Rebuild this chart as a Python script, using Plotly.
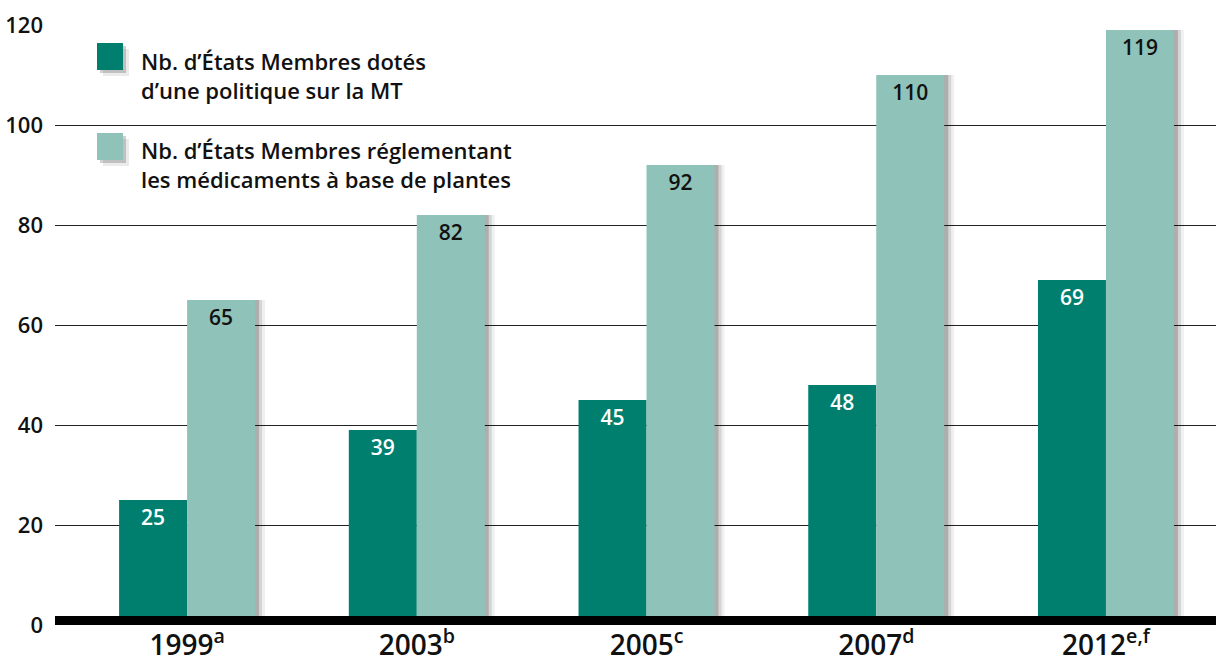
import plotly.graph_objects as go

years = ["1999", "2003", "2005", "2007", "2012"]
footnotes = ["a", "b", "c", "d", "e,f"]
policy_counts = [25, 39, 45, 48, 69]
herbal_counts = [65, 82, 92, 110, 119]
series_names = [
    "Nb. d\u2019\u00c9tats Membres dot\u00e9s<br>d\u2019une politique sur la MT",
    "Nb. d\u2019\u00c9tats Membres r\u00e9glementant<br>les m\u00e9dicaments \u00e0 base de plantes",
]
y_ticks = [0, 20, 40, 60, 80, 100, 120]

DARK = "#007f6f"
LIGHT = "#8fc2b9"
FONT = "Open Sans"
W, H = 1216, 663
ML, MR, MT, MB = 55, 0, 25, 38
BAR_W = 0.296
PX = 1 / 229.75  # one pixel in category units


def px_x(p):
    return (p - ML) / (W - ML - MR)


def px_y(p):
    return (H - MB - p) / (H - MT - MB)


fig = go.Figure()

# soft drop shadows behind the bars
for off, alpha in [(10, 0.06), (7, 0.11), (4, 0.18)]:
    fig.add_trace(go.Bar(
        x=years, y=herbal_counts, offset=off * PX, width=BAR_W,
        marker=dict(color=f"rgba(0,0,0,{alpha})", line_width=0),
        hoverinfo="skip", showlegend=False,
    ))

fig.add_trace(go.Bar(
    x=years, y=policy_counts, offset=-BAR_W, width=BAR_W,
    name=series_names[0],
    marker=dict(color=DARK, line_width=0),
    text=policy_counts, textposition="inside", insidetextanchor="end",
    textangle=0, constraintext="none",
    textfont=dict(family=FONT, size=21, color="white", weight=600),
    showlegend=False,
))
fig.add_trace(go.Bar(
    x=years, y=herbal_counts, offset=0, width=BAR_W,
    name=series_names[1],
    marker=dict(color=LIGHT, line_width=0),
    text=herbal_counts, textposition="inside", insidetextanchor="end",
    textangle=0, constraintext="none",
    textfont=dict(family=FONT, size=21, color="#111111", weight=600),
    showlegend=False,
))

shapes = []
# thick baseline with a soft shadow underneath
for dy, alpha in [(-6, 0.06), (-3, 0.12)]:
    shapes.append(dict(
        type="rect", xref="paper", x0=0, x1=1, yref="y", ysizemode="pixel",
        yanchor=0, y0=dy, y1=9 + dy, line_width=0,
        fillcolor=f"rgba(0,0,0,{alpha})", layer="below",
    ))
shapes.append(dict(
    type="rect", xref="paper", x0=0, x1=1, yref="y", ysizemode="pixel",
    yanchor=0, y0=0, y1=9, line_width=0, fillcolor="black", layer="above",
))

# hand-made legend: squares with a small shadow, two-line labels
annotations = []
for color, top, text_y, name in [(DARK, 43, 76, series_names[0]),
                                 (LIGHT, 133, 165, series_names[1])]:
    for d, alpha in [(6, 0.08), (3, 0.18)]:
        shapes.append(dict(
            type="rect", xref="paper", yref="paper",
            x0=px_x(97 + d), x1=px_x(123 + d),
            y0=px_y(top + 27 + d), y1=px_y(top + d),
            line_width=0, fillcolor=f"rgba(0,0,0,{alpha})", layer="above",
        ))
    shapes.append(dict(
        type="rect", xref="paper", yref="paper",
        x0=px_x(97), x1=px_x(123), y0=px_y(top + 27), y1=px_y(top),
        line_width=0, fillcolor=color, layer="above",
    ))
    annotations.append(dict(
        xref="paper", yref="paper", x=px_x(139), y=px_y(text_y),
        xanchor="left", yanchor="middle", align="left", showarrow=False,
        text=name,
        font=dict(family=FONT, size=22, color="#111111", weight=600),
    ))

fig.update_layout(
    width=W, height=H,
    margin=dict(l=ML, r=MR, t=MT, b=MB),
    barmode="overlay",
    plot_bgcolor="white", paper_bgcolor="white",
    font=dict(family=FONT, color="#111111"),
    shapes=shapes, annotations=annotations,
    showlegend=False,
    xaxis=dict(
        type="category", range=[-0.575, 4.479],
        tickvals=years,
        ticktext=[f"{y}<sup>{f}</sup>" for y, f in zip(years, footnotes)],
        tickfont=dict(family=FONT, size=28, color="#111111", weight=600),
        showgrid=False, zeroline=False, showline=False, ticks="",
        ticklabelstandoff=1, automargin=False,
    ),
    yaxis=dict(
        range=[0, 120], tickvals=y_ticks,
        tickfont=dict(family=FONT, size=22, color="#111111", weight=600),
        showgrid=True, gridcolor="#222222", gridwidth=1,
        zeroline=False, showline=False, ticks="",
        ticklabelstandoff=11, automargin=False,
    ),
)

# drop the default page margin so the figure sits at the window's corner
fig.write_html(
    "out.html",
    config={"displayModeBar": False},
    post_script="document.body.style.margin='0';",
)
